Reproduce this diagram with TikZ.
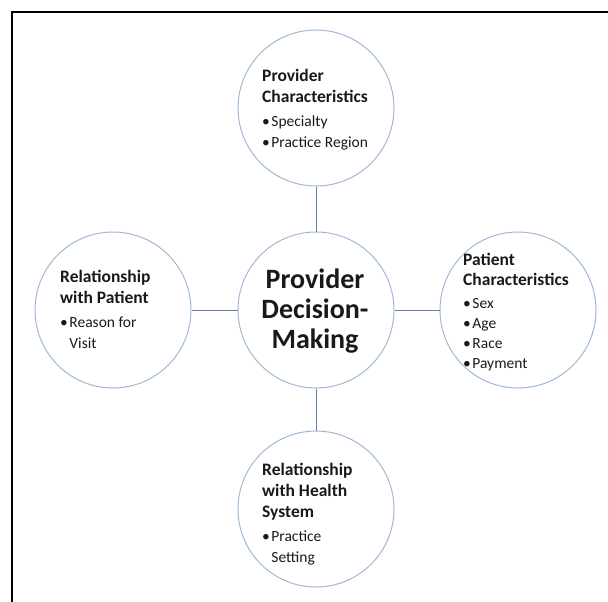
\documentclass[tikz,border=0pt]{standalone}
\usepackage{fontspec}
\setmainfont{Carlito}
\definecolor{circ}{RGB}{158,184,212}
\definecolor{conn}{RGB}{100,128,160}
\definecolor{txt}{RGB}{25,25,25}
\newcommand\hd[1]{{\bfseries\fontsize{17.5}{20}\selectfont #1}}
\newcommand\bl{•\kern1.5pt}
\begin{document}
\begin{tikzpicture}[x=1pt,y=-1pt,
  bub/.style={circle, draw=circ, line width=1pt, minimum size=156pt, inner sep=0pt},
  link/.style={draw=conn, line width=1pt},
  lbl/.style={align=left, text=txt, inner sep=0pt, font=\fontsize{15.5}{21}\selectfont},
  mid/.style={align=center, text=txt, inner sep=0pt, font=\bfseries\fontsize{28}{30}\selectfont},
  frame/.style={draw=black, line width=2pt}]
\useasboundingbox (0,0) rectangle (608,602);
\draw[frame] (12,602) -- (12,12) -- (608,12);

\node[bub] (ctr) at (316,310) {};
\node[bub] (top) at (316,108) {};
\node[bub] (lft) at (113,310) {};
\node[bub] (rgt) at (518,310) {};
\node[bub] (bot) at (316,509) {};

\draw[link] (ctr) -- (top);
\draw[link] (ctr) -- (lft);
\draw[link] (ctr) -- (rgt);
\draw[link] (ctr) -- (bot);

\node[mid] (ctrtxt) at (315,311) {Provider\\Decision-\\Making};

\node[lbl, anchor=north west] (toptxt) at (262,69)
  {\hd{Provider}\\\hd{Characteristics}\\[3pt]\bl Specialty\\\bl Practice Region};
\node[lbl, anchor=north west] (lfttxt) at (60,270)
  {\hd{Relationship}\\\hd{with Patient}\\[3pt]\bl Reason for\\\phantom{\bl}Visit};
\node[lbl, anchor=north west, font=\fontsize{15.5}{20}\selectfont] (rgttxt) at (463,253)
  {\hd{Patient}\\\hd{Characteristics}\\[3pt]\bl Sex\\\bl Age\\\bl Race\\\bl Payment};
\node[lbl, anchor=north west] (bottxt) at (262,463)
  {\hd{Relationship}\\\hd{with Health}\\\hd{System}\\[3pt]\bl Practice\\\phantom{\bl}Setting};
\end{tikzpicture}
\end{document}
